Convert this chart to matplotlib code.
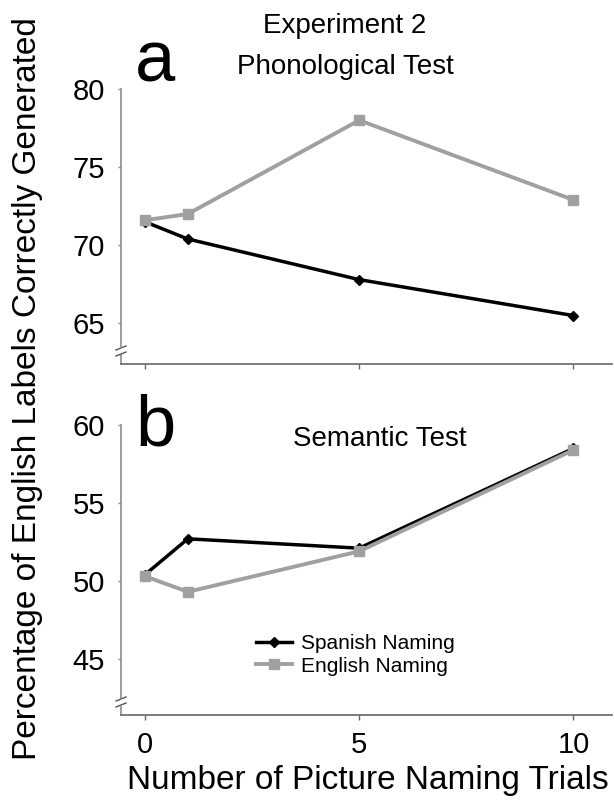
import matplotlib
matplotlib.use('Agg')
import matplotlib.pyplot as plt

# data
trials = [0, 1, 5, 10]
phon_spanish = [71.5, 70.4, 67.8, 65.5]
phon_english = [71.6, 72.0, 78.0, 72.9]
sem_spanish = [50.4, 52.7, 52.1, 58.5]
sem_english = [50.3, 49.3, 51.9, 58.4]
xticks = [0, 5, 10]
phon_yticks = [65, 70, 75, 80]
sem_yticks = [45, 50, 55, 60]

plt.rc('font', family='Liberation Sans')

W, H = 614, 802
fig = plt.figure(figsize=(W / 100, H / 100), dpi=100)


def px_axes(left, top, right, bottom):
    return fig.add_axes([left / W, 1 - bottom / H, (right - left) / W, (bottom - top) / H])


def style_axis(ax, yticks, ylim, xlabels):
    ax.set_xlim(-0.56, 10.9)
    ax.set_ylim(*ylim)
    ax.set_xticks(xticks)
    ax.set_yticks(yticks)
    if not xlabels:
        ax.set_xticklabels([])
    ax.spines['top'].set_visible(False)
    ax.spines['right'].set_visible(False)
    ax.spines['left'].set_color('#8c8c8c')
    ax.spines['bottom'].set_color('#666666')
    ax.spines['left'].set_linewidth(1.2)
    ax.spines['bottom'].set_linewidth(1.2)
    ax.tick_params(axis='y', direction='out', length=2.5, width=1, color='#8c8c8c',
                   pad=9, labelsize=21)
    ax.tick_params(axis='x', direction='out', length=3.5, width=1, color='#666666',
                   pad=8, labelsize=21)
    # axis break on the y axis
    h = ax.get_position().height * H
    w = ax.get_position().width * W
    yb = 13.0 / h
    ax.spines['left'].set_bounds(ylim[0] + (ylim[1] - ylim[0]) * (yb + 4.5 / h), ylim[1])
    ax.plot([0, 0], [0, yb - 4.5 / h], transform=ax.transAxes, color='#8c8c8c',
            lw=1.2, clip_on=False)
    for off in (-3.0, 3.0):
        ax.plot([-5 / w, 5 / w], [yb + (off - 2) / h, yb + (off + 2) / h],
                transform=ax.transAxes, color='#555555', lw=1, clip_on=False)


# panel a
ax1 = px_axes(121, 89, 612, 364)
ax1.plot(trials, phon_spanish, color='black', lw=2.5, marker='D', ms=5,
         label='Spanish Naming', zorder=3)
ax1.plot(trials, phon_english, color='#a0a0a0', lw=2.8, marker='s', ms=7,
         label='English Naming', zorder=4)
style_axis(ax1, phon_yticks, (62.4, 80), False)

# panel b
ax2 = px_axes(121, 425, 612, 715)
ax2.plot(trials, sem_spanish, color='black', lw=2.5, marker='D', ms=5,
         label='Spanish Naming', zorder=3)
ax2.plot(trials, sem_english, color='#a0a0a0', lw=2.8, marker='s', ms=7,
         label='English Naming', zorder=4)
style_axis(ax2, sem_yticks, (41.4, 60), True)

ax2.legend(loc='upper left', bbox_to_anchor=(246 / W, 1 - 624 / H),
           bbox_transform=fig.transFigure, frameon=False, fontsize=15,
           handlelength=1.7, handletextpad=0.45, labelspacing=0.15, borderpad=0)

# text
fig.text(135 / W, 1 - 82 / H, 'a', fontsize=52, ha='left', va='baseline')
fig.text(135 / W, 1 - 445 / H, 'b', fontsize=52, ha='left', va='baseline')
fig.text(345 / W, 1 - 26 / H, 'Experiment 2', fontsize=20, ha='center', va='center')
fig.text(345 / W, 1 - 67 / H, 'Phonological Test', fontsize=20, ha='center', va='center')
fig.text(380 / W, 1 - 439 / H, 'Semantic Test', fontsize=20, ha='center', va='center')
fig.text(28 / W, 1 - 389 / H, 'Percentage of English Labels Correctly Generated',
         fontsize=24, rotation=90, ha='center', va='center')
fig.text(368 / W, 1 - 781 / H, 'Number of Picture Naming Trials',
         fontsize=24, ha='center', va='center')

plt.savefig('out.png', dpi=100)
plt.close()
